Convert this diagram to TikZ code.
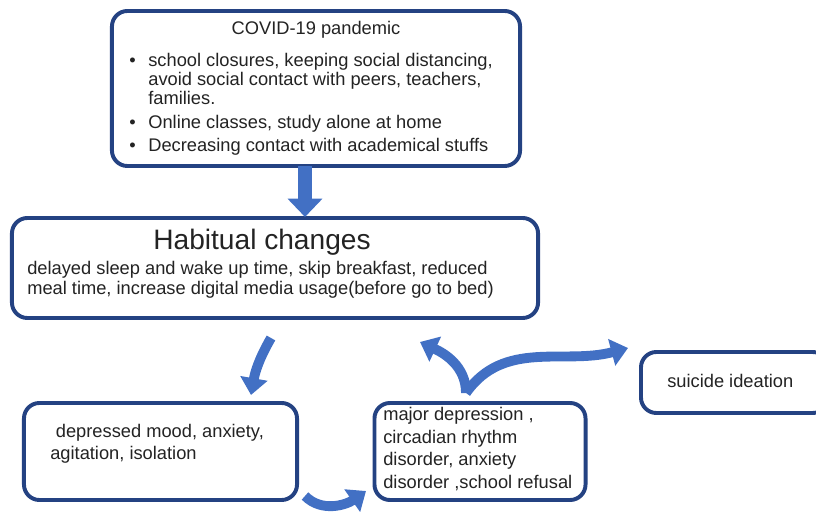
\documentclass[tikz,border=0pt]{standalone}
\usepackage{fontspec}
\setmainfont{Liberation Sans}
\usepackage{xcolor}
\usetikzlibrary{arrows.meta}

\definecolor{boxblue}{RGB}{36,66,130}
\definecolor{arrowblue}{RGB}{66,112,196}
\definecolor{ink}{RGB}{35,35,35}

\tikzset{
  panel/.style={draw=boxblue, line width=2.8pt, rounded corners=11pt, fill=white, inner sep=0pt},
  bigarrow/.style={draw=arrowblue, line width=10pt, -{Triangle[width=24pt,length=13pt]}},
  curvearrow/.style={draw=arrowblue, line width=7pt, -{Triangle[width=19pt,length=12pt]}},
  txt/.style={inner sep=0pt, text=ink, font=\fontsize{13}{15.6}\selectfont}
}

\begin{document}
\begin{tikzpicture}[x=0.025cm,y=0.025cm]
\useasboundingbox (0,0) rectangle (816,512);

% boxes
\node at (316,423.5) (covid) [panel, minimum width=10.2cm, minimum height=3.875cm] {};
\node at (275,244) (habit) [panel, minimum width=13.15cm, minimum height=2.5cm] {};
\node at (160.5,60.5) (mood) [panel, minimum width=6.825cm, minimum height=2.425cm] {};
\node at (480,60.5) (disorder) [panel, minimum width=5.275cm, minimum height=2.425cm] {};
\node at (734.5,129.5) (suicide) [panel, minimum width=4.675cm, minimum height=1.525cm] {};

% texts
\node at (316,477) (covidtitle) [txt, anchor=base] {COVID-19 pandemic};
\node at (129,445) (covidlist) [txt, anchor=base west, font=\fontsize{13}{13.5}\selectfont] {%
  \begin{tabular}[t]{@{}l@{\hspace{9pt}}l@{}}
  \textbullet & school closures, keeping social distancing,\\
              & avoid social contact with peers, teachers,\\
              & families.\\[3pt]
  \textbullet & Online classes, study alone at home\\[3pt]
  \textbullet & Decreasing contact with academical stuffs
  \end{tabular}};

\node at (262,262) (habittitle) [txt, anchor=base, font=\fontsize{20}{24}\selectfont] {Habitual changes};
\node at (27,237) (habitbody) [txt, anchor=base west, font=\fontsize{13}{14.2}\selectfont] {%
  \begin{tabular}[t]{@{}l@{}}
  delayed sleep and wake up time, skip breakfast, reduced\\
  meal time, increase digital media usage(before go to bed)
  \end{tabular}};

\node at (50,74) (moodtext) [txt, anchor=base west] {%
  \begin{tabular}[t]{@{}l@{}}
  \hspace{4pt}depressed mood, anxiety,\\
  agitation, isolation
  \end{tabular}};

\node at (383,91) (disordertext) [txt, anchor=base west, font=\fontsize{13}{16}\selectfont] {%
  \begin{tabular}[t]{@{}l@{}}
  major depression ,\\
  circadian rhythm\\
  disorder, anxiety\\
  disorder ,school refusal
  \end{tabular}};

\node at (667,124) (suicidetext) [txt, anchor=base west] {suicide ideation};

% arrows
\coordinate (d1) at (305,346);
\coordinate (d2) at (305,295);
\coordinate (a1) at (271,174);
\coordinate (b1) at (251,117);
\coordinate (a2) at (466,119);
\coordinate (b2) at (420,170);
\coordinate (b3) at (628,164);
\coordinate (a4) at (305,16);
\coordinate (b4) at (366,21);

\draw[bigarrow] (d1) -- (d2);
\draw[curvearrow] (a1) to [out=240,in=80] (b1);
\draw[curvearrow] (a2) to [out=90,in=-25] (b2);
\draw[curvearrow] (a2) to [out=55,in=195] (b3);
\draw[curvearrow] (a4) to [out=-45,in=215] (b4);
\end{tikzpicture}
\end{document}
